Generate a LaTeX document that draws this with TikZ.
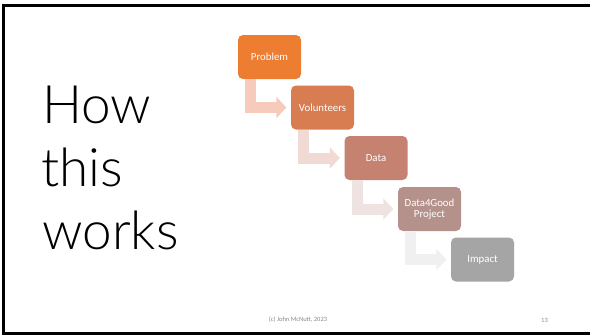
\documentclass[tikz,border=0pt]{standalone}
\usepackage{fontspec}
\setmainfont{Carlito}
\newfontfamily\lightfont{Lato Light}
\usetikzlibrary{arrows.meta,calc}
\definecolor{c1}{HTML}{ED7D31}
\definecolor{c2}{HTML}{D87C52}
\definecolor{c3}{HTML}{C58270}
\definecolor{c4}{HTML}{B4918B}
\definecolor{c5}{HTML}{A5A5A5}
\definecolor{a1}{HTML}{F6CBBB}
\definecolor{a2}{HTML}{F2DAD4}
\definecolor{a3}{HTML}{EFE3E1}
\definecolor{a4}{HTML}{F0F0F0}
\definecolor{foot}{HTML}{898989}
\tikzset{
  stepbox/.style={rounded corners=5pt, minimum width=63pt, minimum height=44pt, inner sep=0pt,
    text=white, font=\fontsize{10.8}{11.5}\selectfont, align=center},
  bentarrow/.style={line width=11pt, line join=miter, -{Triangle[width=21pt,length=10pt]}},
  title/.style={anchor=base west, inner sep=0pt, font=\lightfont\fontsize{53}{63}\selectfont},
  foottext/.style={text=foot, inner sep=0pt, font=\fontsize{6.5}{7}\selectfont}
}
\begin{document}
\begin{tikzpicture}[x=1pt,y=-1pt]
\useasboundingbox (0,0) rectangle (590,335);
\fill[white] (0,0) rectangle (590,335);
\draw[line width=2.8pt] (602,5.2) -- (3.8,5.2) -- (3.8,333.8) -- (602,333.8);
% title
\node[title] (t1) at (42,123) {How};
\node[title] (t2) at (41,186) {this};
\node[title] (t3) at (42,249) {works};
% boxes
\node[stepbox, fill=c1] (p) at (269.5,57) {Problem};
\node[stepbox, fill=c2] (v) at (322.5,107.5) {Volunteers};
\node[stepbox, fill=c3] (d) at (376,158) {Data};
\node[stepbox, fill=c4] (g) at (429.5,209) {Data4Good\\Project};
\node[stepbox, fill=c5] (i) at (482.5,259.5) {Impact};
% bent arrows
\draw[bentarrow, a1] ($(p.south west)+(13,0)$) |- ($(v.west)+(-4.5,0)$);
\draw[bentarrow, a2] ($(v.south west)+(13,0)$) |- ($(d.west)+(-4.5,0)$);
\draw[bentarrow, a3] ($(d.south west)+(13,0)$) |- ($(g.west)+(-4.5,0)$);
\draw[bentarrow, a4] ($(g.south west)+(13,0)$) |- ($(i.west)+(-4.5,0)$);
% footer
\node[foottext] (f1) at (298,320) {(c) John McNutt, 2023};
\node[foottext] (f2) at (544.5,320.5) {13};
\end{tikzpicture}
\end{document}
